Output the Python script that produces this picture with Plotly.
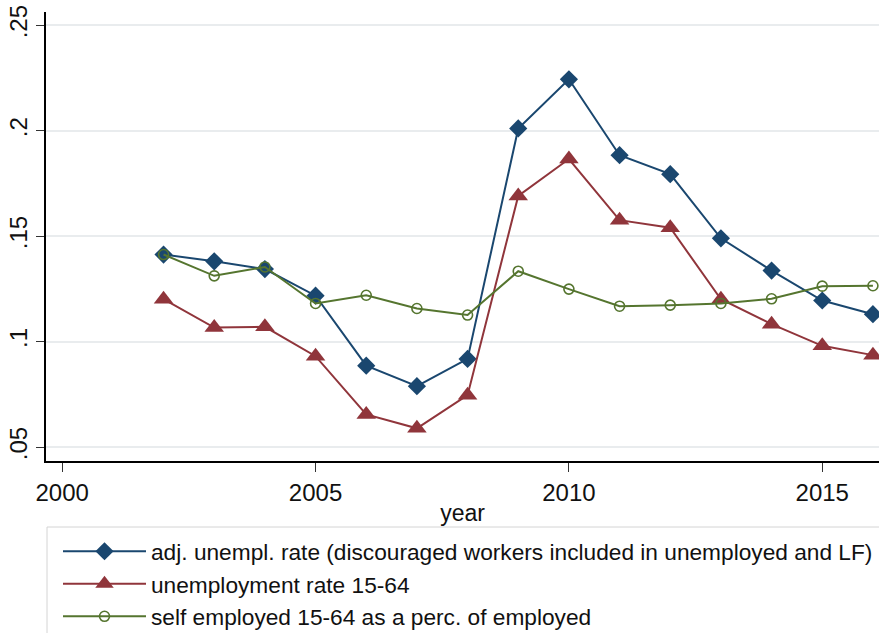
import plotly.graph_objects as go

years = [2002, 2003, 2004, 2005, 2006, 2007, 2008, 2009, 2010, 2011, 2012, 2013, 2014, 2015, 2016]
adj_unemp = [0.1413, 0.1381, 0.1344, 0.1218, 0.0886, 0.0789, 0.0918, 0.2011, 0.2244, 0.1884, 0.1794, 0.1490, 0.1337, 0.1195, 0.1130]
unemp = [0.1201, 0.1067, 0.1070, 0.0931, 0.0655, 0.0589, 0.0746, 0.1691, 0.1866, 0.1576, 0.1540, 0.1201, 0.1083, 0.0980, 0.0936]
self_emp = [0.1413, 0.1312, 0.1354, 0.1181, 0.1220, 0.1157, 0.1126, 0.1334, 0.1249, 0.1168, 0.1173, 0.1181, 0.1203, 0.1263, 0.1265]

names = [
    "adj. unempl. rate (discouraged workers included in unemployed and LF)",
    "unemployment rate 15-64",
    "self employed 15-64 as a perc. of employed",
]
x_ticks = [2000, 2005, 2010, 2015]
y_ticks = [0.05, 0.10, 0.15, 0.20, 0.25]
y_ticklabels = [".05", ".1", ".15", ".2", ".25"]

NAVY = "#1a476f"
MAROON = "#90353b"
GREEN = "#55752f"
FONT = "Liberation Sans, Arial, sans-serif"

fig = go.Figure()
fig.add_trace(go.Scatter(
    x=years, y=adj_unemp, name=names[0], mode="lines+markers",
    line=dict(color=NAVY, width=2),
    marker=dict(symbol="diamond", size=14, color=NAVY, line=dict(width=0)),
))
fig.add_trace(go.Scatter(
    x=years, y=unemp, name=names[1], mode="lines+markers",
    line=dict(color=MAROON, width=2),
    marker=dict(symbol="triangle-up", size=17, color=MAROON, line=dict(width=0)),
))
fig.add_trace(go.Scatter(
    x=years, y=self_emp, name=names[2], mode="lines+markers",
    line=dict(color=GREEN, width=2),
    marker=dict(symbol="circle-open", size=10, color=GREEN, line=dict(width=1.6, color=GREEN)),
))

# legend frame (Stata-style box below the plot)
fig.add_shape(
    type="rect", xref="paper", yref="paper",
    x0=(47 - 46) / 833, x1=1.05, y0=(461 - 527) / 449, y1=-0.5,
    line=dict(color="#d4d4d4", width=1), fillcolor="rgba(0,0,0,0)", layer="below",
)

fig.update_layout(
    width=879, height=633,
    margin=dict(l=46, r=0, t=12, b=172, pad=0, autoexpand=False),
    paper_bgcolor="white", plot_bgcolor="white",
    font=dict(family=FONT, size=23, color="#111111"),
    showlegend=True,
    legend=dict(
        x=(58 - 46) / 833, y=-0.1537, xanchor="left", yanchor="top",
        bgcolor="rgba(0,0,0,0)", borderwidth=0,
        itemwidth=83, font=dict(family=FONT, size=22.7, color="#111111"),
        tracegroupgap=0,
    ),
    xaxis=dict(
        range=[1999.68, 2016.12], tickvals=x_ticks,
        showgrid=False, zeroline=False,
        showline=True, linecolor="#000000", linewidth=1.5,
        ticks="outside", ticklen=9, tickwidth=1.2, tickcolor="#333333",
        tickfont=dict(size=24),
        title=dict(text="year", font=dict(size=23), standoff=0),
    ),
    yaxis=dict(
        range=[0.0434, 0.2563], tickvals=y_ticks, ticktext=y_ticklabels,
        tickangle=-90,
        showgrid=True, gridcolor="#e9ecee", gridwidth=1.5, zeroline=False,
        showline=True, linecolor="#000000", linewidth=1.5,
        ticks="outside", ticklen=8, tickwidth=1.2, tickcolor="#333333",
        tickfont=dict(size=24),
    ),
)

fig.write_html("out.html")
